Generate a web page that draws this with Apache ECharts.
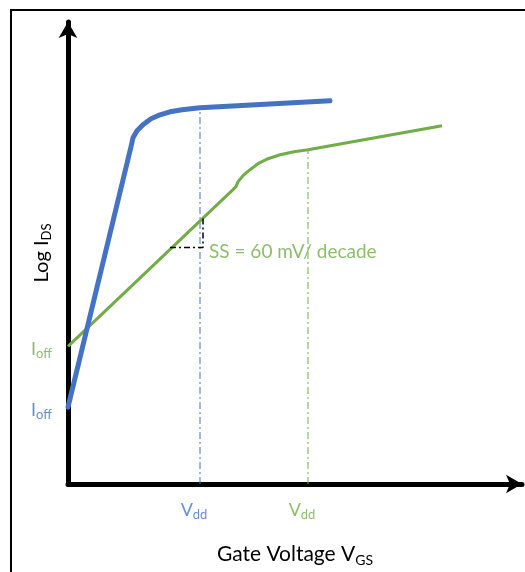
<!DOCTYPE html>
<html>
<head>
<meta charset="utf-8">
<script src="https://cdn.jsdelivr.net/npm/echarts@6/dist/echarts.min.js"></script>
<style>
  html, body { margin: 0; padding: 0; background: #fff; }
  #chart { width: 525px; height: 572px; }
</style>
</head>
<body>
<div id="chart"></div>
<script>
// 曲线数据（横轴: 栅压, 纵轴: log 电流，均为示意单位）
const blueX = [0, 63, 65, 69, 75, 83, 92, 102, 114, 132, 262];
const blueY = [77, 338, 347, 354, 360, 366, 370, 373, 375, 377, 384];
const greenX = [0, 165, 168, 170, 175, 182, 190, 200, 212, 226, 240, 374];
const greenY = [138, 295, 298, 303, 309, 315, 321, 326, 330, 333, 335, 359];
// Vdd 位置和对应的电流
const vddX = [132, 240];
const vddTop = [377, 335];
// Ioff 位置
const ioffY = [77, 138];
// SS 三角形
const ssX = [102, 135, 135];
const ssY = [237, 237, 267];

const BLUE = '#4472C4';
const GREEN = '#70AD47';
const FONT = 'Lato';

function pairs(xs, ys) {
  return xs.map((x, i) => [x, ys[i]]);
}

// 带下标的文字
function subRich(color, size, subSize) {
  return {
    a: { fontSize: size, color: color, fontFamily: FONT },
    s: { fontSize: subSize, color: color, fontFamily: FONT, padding: [Math.round(size * 0.5), 0, 0, 0] },
  };
}

const myChart = echarts.init(document.getElementById('chart'));

const dashDot = [7, 3, 2, 3];

let option = {
  animation: false,
  textStyle: { fontFamily: FONT },
  grid: { left: 68, right: 3, top: 22, bottom: 87 },
  xAxis: {
    type: 'value',
    min: 0,
    max: 454,
    axisLine: {
      show: true,
      symbol: ['none', 'arrow'],
      symbolSize: [14, 16],
      lineStyle: { color: '#000', width: 5 },
    },
    axisTick: { show: false },
    axisLabel: { show: false },
    splitLine: { show: false },
    name: '{a|Gate Voltage V}{s|GS}',
    nameLocation: 'middle',
    nameGap: 58,
    nameTextStyle: { rich: subRich('#000', 21, 14) },
  },
  yAxis: {
    type: 'value',
    min: 0,
    max: 463,
    axisLine: {
      show: true,
      symbol: ['none', 'arrow'],
      symbolSize: [14, 16],
      lineStyle: { color: '#000', width: 5 },
    },
    axisTick: { show: false },
    axisLabel: { show: false },
    splitLine: { show: false },
    name: '{a|Log I}{s|DS}',
    nameLocation: 'middle',
    nameGap: 15,
    nameTextStyle: { rich: subRich('#000', 20, 13) },
  },
  graphic: [
    {
      type: 'polyline',
      shape: { points: [[11, 572], [11, 10], [525, 10]] },
      style: { stroke: '#000', lineWidth: 2, fill: 'none' },
    },
  ],
  series: [
    // Vdd 虚线
    {
      type: 'line',
      data: [[vddX[0], 0], [vddX[0], vddTop[0]]],
      symbol: 'none',
      lineStyle: { color: BLUE, width: 1, type: dashDot },
      z: 1,
    },
    {
      type: 'line',
      data: [[vddX[1], 0], [vddX[1], vddTop[1]]],
      symbol: 'none',
      lineStyle: { color: GREEN, width: 1, type: dashDot },
      z: 1,
    },
    // 蓝色曲线
    {
      type: 'line',
      data: pairs(blueX, blueY),
      symbol: 'none',
      lineStyle: { color: BLUE, width: 5, join: 'round', cap: 'round' },
      z: 3,
    },
    // 绿色曲线
    {
      type: 'line',
      data: pairs(greenX, greenY),
      symbol: 'none',
      lineStyle: { color: GREEN, width: 3, join: 'round' },
      z: 2,
    },
    // SS 三角形
    {
      type: 'line',
      data: pairs(ssX, ssY),
      symbol: 'none',
      lineStyle: { color: '#000', width: 1.5, type: [6, 3, 2, 3] },
      z: 4,
    },
    // 文字标签
    {
      type: 'scatter',
      symbolSize: 0,
      clip: false,
      silent: true,
      data: [
        {
          value: [ssX[1], ssY[1]],
          label: {
            show: true,
            position: 'right',
            distance: 6,
            offset: [0, 4],
            formatter: 'SS = 60 mV/ decade',
            color: GREEN,
            fontSize: 19,
            fontFamily: FONT,
          },
        },
        {
          value: [0, ioffY[1]],
          label: {
            show: true,
            position: 'left',
            distance: 16,
            offset: [0, 3],
            formatter: '{a|I}{s|off}',
            rich: subRich(GREEN, 18, 13),
          },
        },
        {
          value: [0, ioffY[0]],
          label: {
            show: true,
            position: 'left',
            distance: 16,
            offset: [0, 3],
            formatter: '{a|I}{s|off}',
            rich: subRich(BLUE, 18, 13),
          },
        },
        {
          value: [vddX[0], 0],
          label: {
            show: true,
            position: 'bottom',
            distance: 15,
            offset: [-6, 0],
            formatter: '{a|V}{s|dd}',
            rich: subRich(BLUE, 18, 13),
          },
        },
        {
          value: [vddX[1], 0],
          label: {
            show: true,
            position: 'bottom',
            distance: 15,
            offset: [-6, 0],
            formatter: '{a|V}{s|dd}',
            rich: subRich(GREEN, 18, 13),
          },
        },
      ],
    },
  ],
};

myChart.setOption(option);
</script>
</body>
</html>
